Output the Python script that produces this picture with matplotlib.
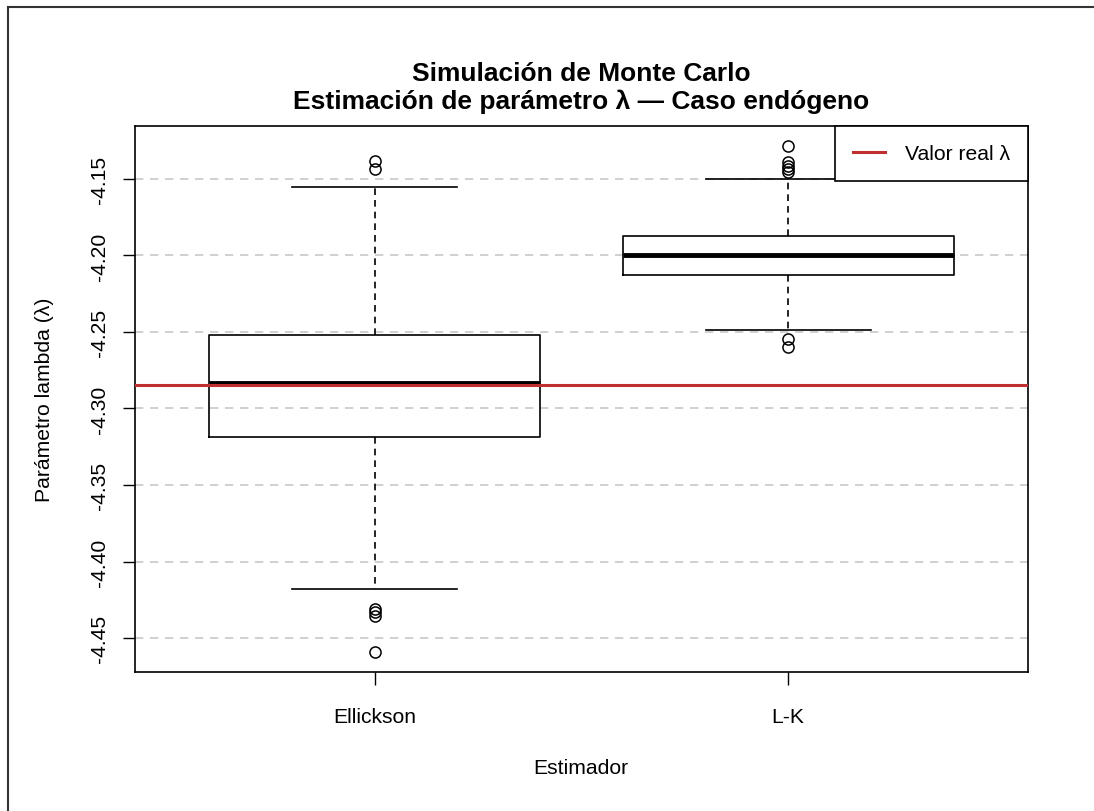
import matplotlib
matplotlib.use("Agg")
import matplotlib.pyplot as plt
from matplotlib.lines import Line2D

plt.rcParams['font.family'] = ['Liberation Sans', 'DejaVu Sans']

# ---- data ----
estimators = ["Ellickson", "L-K"]
whisker_low = [-4.4180, -4.2487]
q1 = [-4.3186, -4.2127]
median = [-4.2833, -4.2000]
q3 = [-4.2520, -4.1873]
whisker_high = [-4.1552, -4.1500]
outliers_ellickson = [-4.1382, -4.1435, -4.4310, -4.4330, -4.4355, -4.4592]
outliers_lk = [-4.1284, -4.1389, -4.1415, -4.1435, -4.1454, -4.2546, -4.2598]
true_lambda = -4.2846
y_ticks = [-4.15, -4.20, -4.25, -4.30, -4.35, -4.40, -4.45]
y_tick_labels = ["-4.15", "-4.20", "-4.25", "-4.30", "-4.35", "-4.40", "-4.45"]

W, H = 1094, 812
fig = plt.figure(figsize=(W / 100, H / 100), dpi=100)
ax = fig.add_axes([135 / W, 1 - 673 / H, (1028 - 135) / W, (673 - 127) / H])

fliers_all = [outliers_ellickson, outliers_lk]
stats = []
for i, name in enumerate(estimators):
    stats.append(dict(label=name, whislo=whisker_low[i], q1=q1[i], med=median[i],
                      q3=q3[i], whishi=whisker_high[i], fliers=fliers_all[i]))

# grid lines
for t in y_ticks:
    ax.axhline(t, color="#c8c8c8", lw=1.2, ls=(0, (5, 4)), zorder=0)

ax.bxp(stats, positions=[1, 2], widths=0.8, showfliers=True,
       boxprops=dict(color="black", lw=1.2),
       medianprops=dict(color="black", lw=3.5),
       whiskerprops=dict(color="black", lw=1.2, ls=(0, (4, 3))),
       capprops=dict(color="black", lw=1.2),
       capwidths=0.4,
       flierprops=dict(marker="o", markerfacecolor="none", markeredgecolor="black",
                       markersize=8, markeredgewidth=1.1, linestyle="none"),
       zorder=2)

ax.axhline(true_lambda, color="#C03030", lw=2.2, zorder=3, label="Valor real λ")

ax.set_xlim(0.42, 2.58)
ax.set_ylim(-4.4722, -4.1154)
ax.set_yticks(y_ticks)
ax.set_yticklabels(y_tick_labels, rotation=90, va="center")
ax.set_xticks([1, 2])
ax.set_xticklabels(estimators)
ax.tick_params(axis="both", labelsize=15.2, length=9, width=1, color="black")
ax.tick_params(axis="x", pad=16)
ax.tick_params(axis="y", pad=10)
for s in ax.spines.values():
    s.set_linewidth(1.2)

leg = ax.legend(loc="upper right", borderaxespad=0, fancybox=False, edgecolor="black",
                framealpha=1, fontsize=15.2, handlelength=1.5, handletextpad=0.95,
                borderpad=0.85)
leg.get_frame().set_linewidth(1.2)

fig.text(581 / W, 1 - 74 / H, "Simulación de Monte Carlo", ha="center", va="center",
         fontsize=19, fontweight="bold")
fig.text(581 / W, 1 - 102 / H, "Estimación de parámetro λ — Caso endógeno", ha="center",
         va="center", fontsize=19, fontweight="bold")
fig.text(581 / W, 1 - 769 / H, "Estimador", ha="center", va="center", fontsize=15.2)
fig.text(45 / W, 1 - 400 / H, "Parámetro lambda (λ)", ha="center", va="center",
         fontsize=15.2, rotation=90)

# outer frame (left and top edges visible)
fig.add_artist(Line2D([7.5 / W, 7.5 / W], [0, 1 - 8 / H], transform=fig.transFigure,
                      color="#333333", lw=1.5))
fig.add_artist(Line2D([7.5 / W, 1], [1 - 8 / H, 1 - 8 / H], transform=fig.transFigure,
                      color="#333333", lw=1.5))

fig.savefig("out.png", dpi=100, facecolor="white")
